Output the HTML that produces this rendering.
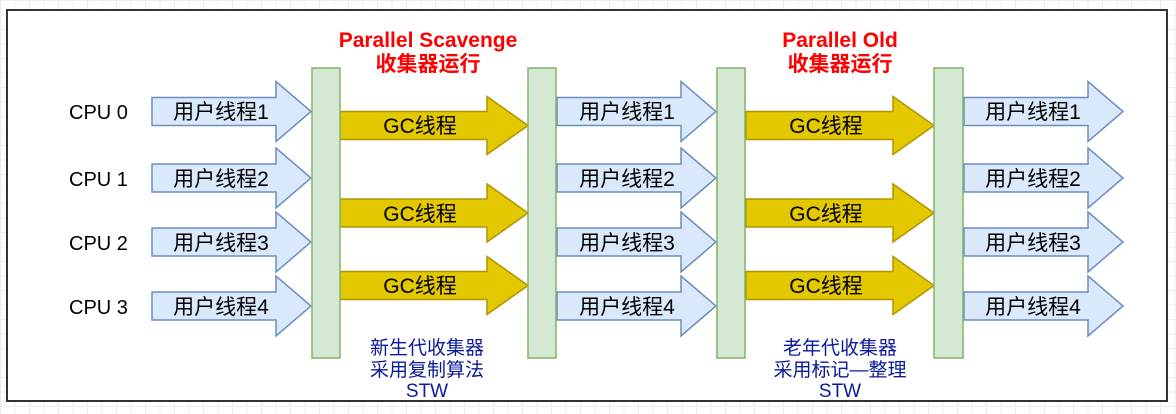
<!DOCTYPE html>
<html><head><meta charset="utf-8"><style>
html,body{margin:0;padding:0;width:1176px;height:414px;overflow:hidden;background:#fff;
background-image:linear-gradient(#ececec 1px,transparent 1px),linear-gradient(90deg,#ececec 1px,transparent 1px);background-size:14.5px 14.5px;}
svg{position:absolute;left:0;top:0}
text{font-family:"Liberation Sans","Noto Sans CJK SC",sans-serif;}
</style></head><body>
<svg width="1176" height="414" viewBox="0 0 1176 414">
<rect x="7" y="10" width="1160" height="391" fill="#fff" stroke="#333" stroke-width="2"/>
<defs>
<g id="ba"><polygon points="0,-14 124,-14 124,-30 159,0 124,30 124,14 0,14" fill="#dae8fc" stroke="#6c8ebf" stroke-width="1.5"/></g>
<g id="ga"><polygon points="0,-14 147,-14 147,-29 188,0 147,29 147,14 0,14" fill="#e3c800" stroke="#b09500" stroke-width="1.5"/></g>
</defs>
<g font-size="20" fill="#000">
<text x="69" y="119">CPU 0</text>
<text x="69" y="186">CPU 1</text>
<text x="69" y="250">CPU 2</text>
<text x="69" y="314">CPU 3</text>
</g>
<use href="#ba" x="152" y="111.5"/><use href="#ba" x="152" y="178"/><use href="#ba" x="152" y="242"/><use href="#ba" x="152" y="306"/>
<use href="#ba" x="557" y="111.5"/><use href="#ba" x="557" y="178"/><use href="#ba" x="557" y="242"/><use href="#ba" x="557" y="306"/>
<use href="#ba" x="964" y="111.5"/><use href="#ba" x="964" y="178"/><use href="#ba" x="964" y="242"/><use href="#ba" x="964" y="306"/>
<use href="#ga" x="340" y="125.5"/><use href="#ga" x="340" y="213"/><use href="#ga" x="340" y="285.5"/>
<use href="#ga" x="746" y="125.5"/><use href="#ga" x="746" y="213"/><use href="#ga" x="746" y="285.5"/>
<g fill="#d5e8d4" stroke="#82b366" stroke-width="1.5">
<rect x="312" y="68" width="28" height="290"/>
<rect x="528" y="68" width="28" height="290"/>
<rect x="717" y="68" width="28" height="290"/>
<rect x="934" y="68" width="29" height="290"/>
</g>
<g font-size="21" fill="#000" text-anchor="middle">
<text x="221" y="119">用户线程1</text><text x="221" y="186">用户线程2</text><text x="221" y="250">用户线程3</text><text x="221" y="314">用户线程4</text>
<text x="627" y="119">用户线程1</text><text x="627" y="186">用户线程2</text><text x="627" y="250">用户线程3</text><text x="627" y="314">用户线程4</text>
<text x="1033" y="119">用户线程1</text><text x="1033" y="186">用户线程2</text><text x="1033" y="250">用户线程3</text><text x="1033" y="314">用户线程4</text>
<text x="420" y="133">GC线程</text><text x="420" y="221">GC线程</text><text x="420" y="293">GC线程</text>
<text x="826" y="133">GC线程</text><text x="826" y="221">GC线程</text><text x="826" y="293">GC线程</text>
</g>
<g font-size="21" font-weight="bold" fill="#ff0000" text-anchor="middle">
<text x="428" y="47">Parallel Scavenge</text><text x="428" y="71">收集器运行</text>
<text x="840" y="47">Parallel Old</text><text x="840" y="71">收集器运行</text>
</g>
<g font-size="19" fill="#0a1a9a" text-anchor="middle">
<text x="427" y="354">新生代收集器</text><text x="427" y="376">采用复制算法</text><text x="427" y="397">STW</text>
<text x="840" y="354">老年代收集器</text><text x="840" y="376">采用标记—整理</text><text x="840" y="397">STW</text>
</g>
</svg>
</body></html>
